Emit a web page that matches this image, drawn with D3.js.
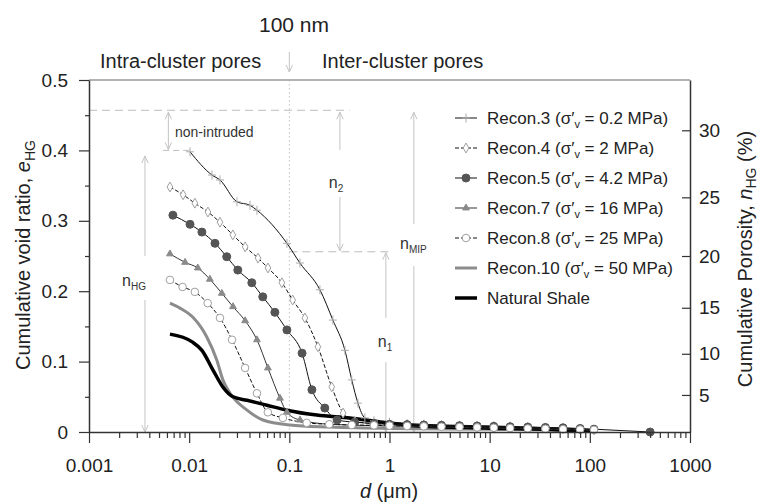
<!DOCTYPE html>
<html>
<head>
<meta charset="utf-8">
<script src="https://cdn.jsdelivr.net/npm/d3@7"></script>
<style>
  body { margin: 0; background: #fff; }
  svg { display: block; font-family: Arial, "Liberation Sans", sans-serif; }
</style>
</head>
<body>
<svg id="chart" width="763" height="504"></svg>
<script>
// ---- data: pore diameter d (µm) vs cumulative void ratio e_HG ----
const recon3 = [[0.0102,0.398],[0.0169,0.365],[0.0203,0.358],[0.030,0.327],[0.0405,0.322],[0.0475,0.315],
  [0.0947,0.268],[0.1276,0.240],[0.202,0.202],[0.272,0.159],[0.359,0.116],[0.42,0.074],[0.484,0.041],[0.567,0.020]];
const recon4 = [[0.00643,0.348],[0.0087,0.337],[0.0114,0.325],[0.0154,0.3125],[0.0203,0.298],[0.0273,0.280],
  [0.0362,0.263],[0.0487,0.247],[0.0612,0.233],[0.0842,0.212],[0.108,0.1875],[0.143,0.162],[0.193,0.121],
  [0.265,0.064],[0.344,0.027],[0.45,0.015]];
const recon5 = [[0.00688,0.308],[0.0102,0.295],[0.0134,0.284],[0.0181,0.268],[0.0237,0.249],[0.0306,0.230],
  [0.0422,0.212],[0.0543,0.192],[0.0717,0.170],[0.0946,0.145],[0.134,0.112],[0.168,0.060],[0.226,0.034],
  [0.300,0.017],[0.45,0.014]];
const recon7 = [[0.00643,0.253],[0.0091,0.241],[0.0122,0.233],[0.0161,0.217],[0.0212,0.197],[0.0274,0.178],
  [0.0362,0.158],[0.0475,0.131],[0.0611,0.091],[0.0806,0.048],[0.0946,0.028],[0.128,0.017],[0.255,0.011]];
const recon8 = [[0.00643,0.216],[0.0086,0.206],[0.0114,0.199],[0.0153,0.183],[0.0203,0.162],[0.0268,0.131],
  [0.0362,0.091],[0.0475,0.055],[0.061,0.028],[0.0862,0.020],[0.149,0.013],[0.25,0.011],[0.42,0.010]];
const recon10 = [[0.00643,0.183],[0.0081,0.176],[0.0109,0.163],[0.0150,0.135],[0.0189,0.102],[0.0217,0.074],
  [0.0256,0.055],[0.0378,0.031],[0.0546,0.017],[0.101,0.010],[0.254,0.007],[1,0.005],[10,0.004],[100,0.002]];
const naturalShale = [[0.00643,0.139],[0.0107,0.128],[0.0134,0.116],[0.0173,0.088],[0.0217,0.064],[0.0274,0.050],
  [0.0378,0.045],[0.0597,0.038],[0.0946,0.031],[0.188,0.024],[0.402,0.020],[0.859,0.014],[1.71,0.009],
  [10,0.0055],[50,0.003],[107,0.001]];

// large-pore tails of the reconstituted samples
const tailD      = [0.7, 1, 1.5, 2.2, 3.3, 5, 7.5, 11, 16, 24, 36, 54, 80, 110];
const recon3Tail = [0.016,0.014,0.012,0.011,0.010,0.0095,0.009,0.0085,0.008,0.007,0.006,0.005,0.004,0.003];
const recon4Tail = [0.012,0.011,0.010,0.0095,0.009,0.0085,0.008,0.0075,0.007,0.0065,0.0055,0.005,0.004,0.003];
const recon5Tail = [0.012,0.011,0.0105,0.010,0.0095,0.009,0.0085,0.008,0.0075,0.007,0.0065,0.006,0.005,0.004];
const recon7Tail = [0.009,0.0085,0.008,0.0075,0.007,0.0065,0.006,0.0055,0.005,0.0045,0.004,0.0035,0.003,0.0025];
const recon8Tail = [0.0095,0.009,0.0085,0.008,0.0075,0.007,0.0065,0.006,0.0055,0.005,0.0045,0.004,0.0035,0.003];
const recon5End  = [[400, 0]];

const seriesNames = ["Recon.3","Recon.4","Recon.5","Recon.7","Recon.8","Recon.10","Natural Shale"];
const stressMPa   = ["0.2","2","4.2","16","25","50",null];

const xTickValues = [0.001,0.01,0.1,1,10,100,1000];
const xTickLabels = ["0.001","0.01","0.1","1","10","100","1000"];
const yTickValues = [0,0.1,0.2,0.3,0.4,0.5];
const yTickLabels = ["0","0.1","0.2","0.3","0.4","0.5"];
const porosityTicks = [5,10,15,20,25,30];

// annotation levels (void ratio)
const eTotal = 0.457, eNonIntrudedBase = 0.4, eSplit = 0.256, eHgTop = 0.392;

// ---- scales ----
const svg = d3.select("#chart");
const x = d3.scaleLog().domain([0.001,1000]).range([89,690]);
const y = d3.scaleLinear().domain([0,0.5]).range([432,80]);

const withTail = (head, tail) => head.concat(tailD.map((d,i) => [d, tail[i]]));
const series = [
  {pts: withTail(recon3, recon3Tail), stroke:"#111", w:1, dash:null, marker:"plus"},
  {pts: withTail(recon4, recon4Tail), stroke:"#111", w:1, dash:"4,2", marker:"diamond"},
  {pts: withTail(recon5, recon5Tail).concat(recon5End), stroke:"#111", w:1, dash:null, marker:"dot"},
  {pts: withTail(recon7, recon7Tail), stroke:"#333", w:1, dash:null, marker:"triangle"},
  {pts: withTail(recon8, recon8Tail), stroke:"#111", w:1, dash:"4,2", marker:"circle"},
  {pts: recon10, stroke:"#8c8c8c", w:3, dash:null, marker:null},
  {pts: naturalShale, stroke:"#000", w:3.5, dash:null, marker:null}
];

// ---- annotations (drawn beneath the curves) ----
const ann = svg.append("g").attr("fill","none").attr("stroke","#c4c4c4").attr("stroke-width",1);
// 100 nm boundary
ann.append("line").attr("x1",x(0.1)).attr("x2",x(0.1)).attr("y1",y(0.5)).attr("y2",y(0))
  .attr("stroke-dasharray","1.5,2.5");
// dashed reference levels
ann.append("line").attr("x1",x(0.001)).attr("x2",x(0.40)).attr("y1",y(eTotal)).attr("y2",y(eTotal))
  .attr("stroke","#bdbdbd").attr("stroke-dasharray","8,5");
ann.append("line").attr("x1",x(0.0055)).attr("x2",x(0.0102)).attr("y1",y(eNonIntrudedBase)).attr("y2",y(eNonIntrudedBase))
  .attr("stroke","#bdbdbd").attr("stroke-dasharray","6,4");
ann.append("line").attr("x1",x(0.1)).attr("x2",x(1.06)).attr("y1",y(eSplit)).attr("y2",y(eSplit))
  .attr("stroke","#bdbdbd").attr("stroke-dasharray","8,5");

function chevron(px, py, dir) { // dir: -1 points up, +1 points down
  ann.append("path").attr("d", `M${px-3.2},${py - dir*7}L${px},${py}L${px+3.2},${py - dir*7}`);
}
function vArrow(px, yTop, yBot, gap, headTop, headBot) {
  if (gap) {
    ann.append("line").attr("x1",px).attr("x2",px).attr("y1",yTop).attr("y2",gap[0]);
    ann.append("line").attr("x1",px).attr("x2",px).attr("y1",gap[1]).attr("y2",yBot);
  } else {
    ann.append("line").attr("x1",px).attr("x2",px).attr("y1",yTop).attr("y2",yBot);
  }
  if (headTop) chevron(px, yTop, -1);
  if (headBot) chevron(px, yBot, 1);
}
vArrow(x(0.1), 52, 72, null, false, true);
vArrow(x(0.0062), y(eTotal)+2, y(eNonIntrudedBase)-1, null, true, true);
vArrow(x(0.00362), y(eHgTop), y(0), [256, 300], true, true);
vArrow(x(0.32), y(eTotal)+2, y(eSplit)-1, [150, 197], true, true);
vArrow(x(0.92), y(eSplit)+1, y(0), [318, 362], true, true);
vArrow(x(1.75), y(eTotal)+2, y(0), [224, 266], true, true);

const lab = svg.append("g").attr("fill","#333");
lab.append("text").attr("x",175).attr("y",137).attr("font-size",14).text("non-intruded");
function nLabel(px, py, sub, anchor) {
  const t = lab.append("text").attr("x",px).attr("y",py).attr("font-size",16).attr("text-anchor",anchor || "middle");
  t.append("tspan").text("n");
  t.append("tspan").attr("font-size",10).attr("dy",4).text(sub);
}
nLabel(134, 286, "HG");
nLabel(336, 188, "2");
nLabel(385, 347, "1");
nLabel(400, 249, "MIP", "start");

// headings above the plot
const heading = svg.append("g").attr("fill","#222");
heading.append("text").attr("x",294).attr("y",32).attr("font-size",21).attr("text-anchor","middle").text("100 nm");
heading.append("text").attr("x",100).attr("y",68).attr("font-size",20).text("Intra-cluster pores");
heading.append("text").attr("x",322).attr("y",68).attr("font-size",20).text("Inter-cluster pores");

// ---- curves ----
const line = d3.line().x(d => x(d[0])).y(d => y(d[1])).curve(d3.curveMonotoneX);
const curves = svg.append("g").attr("fill","none");
// thick lines first, thin lines with markers over them
[5,6,0,1,2,3,4].forEach(i => {
  const s = series[i];
  curves.append("path").attr("d", line(s.pts)).attr("stroke", s.stroke).attr("stroke-width", s.w)
    .attr("stroke-dasharray", s.dash).attr("stroke-linejoin","round");
});

function drawMarker(g, kind, px, py) {
  if (kind === "plus") {
    g.append("path").attr("d", `M${px-4},${py}H${px+4}M${px},${py-4.5}V${py+4.5}`)
      .attr("stroke","#ababab").attr("stroke-width",1).attr("fill","none");
  } else if (kind === "diamond") {
    g.append("path").attr("d", d3.symbol(d3.symbolDiamond, 28)()).attr("transform",`translate(${px},${py})`)
      .attr("fill","#fff").attr("stroke","#a0a0a0").attr("stroke-width",1);
  } else if (kind === "dot") {
    g.append("circle").attr("cx",px).attr("cy",py).attr("r",4).attr("fill","#555").attr("stroke","#555");
  } else if (kind === "triangle") {
    g.append("path").attr("d", d3.symbol(d3.symbolTriangle, 20)()).attr("transform",`translate(${px},${py})`)
      .attr("fill","#8a8a8a").attr("stroke","#8a8a8a");
  } else if (kind === "circle") {
    g.append("circle").attr("cx",px).attr("cy",py).attr("r",3.8).attr("fill","#fff")
      .attr("stroke","#a0a0a0").attr("stroke-width",1);
  }
}
const marks = svg.append("g");
[0,1,2,3,4].forEach(i => {
  const s = series[i];
  s.pts.forEach(p => drawMarker(marks, s.marker, x(p[0]), y(p[1])));
});

// ---- frame and axes ----
svg.append("line").attr("x1",89).attr("x2",690).attr("y1",y(0.5)).attr("y2",y(0.5))
  .attr("stroke","#9a9a9a").attr("stroke-width",1.5);

function styleAxis(g) {
  g.select(".domain").attr("stroke","#333").attr("stroke-width",1.5);
  g.selectAll(".tick line").attr("stroke","#333").attr("stroke-width",1.2);
  g.selectAll("text").attr("fill","#222").attr("font-size",19)
    .attr("font-family",'Arial, "Liberation Sans", sans-serif');
}
// bottom
const xMinor = x.ticks().filter(v => !xTickValues.some(m => Math.abs(m - v) / m < 1e-9));
svg.append("g").attr("transform","translate(0,432)")
  .call(d3.axisBottom(x).tickValues(xMinor).tickSize(6).tickFormat(""))
  .call(g => { g.select(".domain").remove(); g.selectAll("line").attr("stroke","#333").attr("stroke-width",1.2); });
svg.append("g").attr("transform","translate(0,432)")
  .call(d3.axisBottom(x).tickValues(xTickValues).tickSize(11).tickSizeOuter(0).tickPadding(16)
    .tickFormat((d,i) => xTickLabels[i]))
  .call(styleAxis);
// left
const yMinor = [0.05,0.15,0.25,0.35,0.45];
svg.append("g").attr("transform","translate(89,0)")
  .call(d3.axisLeft(y).tickValues(yMinor).tickSize(4).tickFormat(""))
  .call(g => { g.select(".domain").remove(); g.selectAll("line").attr("stroke","#333").attr("stroke-width",1.2); });
svg.append("g").attr("transform","translate(89,0)")
  .call(d3.axisLeft(y).tickValues(yTickValues).tickSize(10).tickSizeOuter(0).tickPadding(11)
    .tickFormat((d,i) => yTickLabels[i]))
  .call(styleAxis);
// right: porosity n = e/(1+e)
svg.append("g").attr("transform","translate(690,0)")
  .call(d3.axisRight(y).tickValues(porosityTicks.map(n => n / (100 - n))).tickSize(-8).tickSizeOuter(0).tickPadding(9)
    .tickFormat((d,i) => String(porosityTicks[i])))
  .call(styleAxis);

// axis titles
const titles = svg.append("g").attr("fill","#222").attr("font-size",20);
const lt = titles.append("text").attr("transform","translate(30,255) rotate(-90)").attr("text-anchor","middle");
lt.append("tspan").text("Cumulative void ratio, ");
lt.append("tspan").attr("font-style","italic").text("e");
lt.append("tspan").attr("font-size",14).attr("dy",5).text("HG");
const rt = titles.append("text").attr("transform","translate(752,259) rotate(-90)").attr("text-anchor","middle");
rt.append("tspan").text("Cumulative Porosity, ");
rt.append("tspan").attr("font-style","italic").text("n");
rt.append("tspan").attr("font-size",14).attr("dy",4).text("HG");
rt.append("tspan").attr("dy",-4).text(" (%)");
const bt = titles.append("text").attr("x",389).attr("y",498).attr("text-anchor","middle");
bt.append("tspan").attr("font-style","italic").text("d");
bt.append("tspan").text(" (\u03BCm)");

// ---- legend ----
const leg = svg.append("g");
seriesNames.forEach((name, i) => {
  const s = series[i];
  const cy = 118 + 30 * i;
  leg.append("line").attr("x1",455).attr("x2",477).attr("y1",cy).attr("y2",cy)
    .attr("stroke", s.stroke).attr("stroke-width", s.w).attr("stroke-dasharray", s.dash);
  if (s.marker) drawMarker(leg, s.marker, 466, cy);
  const t = leg.append("text").attr("x",487).attr("y",cy + 6).attr("font-size",17).attr("fill","#222");
  if (stressMPa[i] === null) {
    t.text(name);
  } else {
    t.append("tspan").text(`${name} (\u03C3\u2032`);
    t.append("tspan").attr("font-size",11).attr("dy",4).text("v");
    t.append("tspan").attr("dy",-4).text(` = ${stressMPa[i]} MPa)`);
  }
});
</script>
</body>
</html>
